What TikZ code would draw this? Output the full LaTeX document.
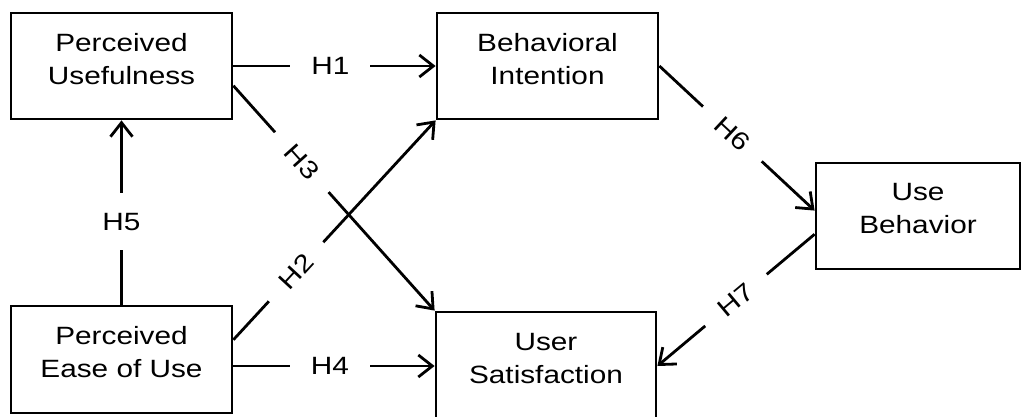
\documentclass[tikz,border=0pt]{standalone}
\usepackage{fontspec}
\setmainfont[FakeStretch=1.19]{Liberation Sans}
\usetikzlibrary{arrows.meta}

\tikzset{
construct/.style={draw,line width=2.8pt,minimum width=221pt,minimum height=106pt,inner sep=0pt,align=center,text depth=15pt,font=\fontsize{25}{33}\selectfont},
link/.style={line width=2.8pt,-{Straight Barb[length=14pt,width=22pt]}},
hyp/.style={fill=white,inner xsep=21pt,inner ysep=20pt,font=\fontsize{25}{30}\selectfont}
}

\begin{document}
\begin{tikzpicture}[x=1pt,y=-1pt]
\useasboundingbox (0,0) rectangle (1027,417);
\node[construct] (pu) at (121.5,66) {Perceived\\Usefulness};
\node[construct] (bi) at (547.5,66) {Behavioral\\Intention};
\node[construct,minimum width=204pt] (ub) at (918,216) {Use\\Behavior};
\node[construct,minimum height=107pt] (peou) at (121.5,359.5) {Perceived\\Ease of Use};
\node[construct,minimum width=220pt,minimum height=108pt] (us) at (546,366) {User\\Satisfaction};
\draw[link] (pu) -- node[hyp,pos=0.48] {H1} (bi);
\draw[link] (peou.10) -- node[hyp,sloped,pos=0.31] {H2} (bi.south west);
\draw[link] (pu.-10) -- node[hyp,sloped,pos=0.34] {H3} (us.north west);
\draw[link] (peou.east |- us.west) -- node[hyp,pos=0.48] {H4} (us.west);
\draw[link] (peou) -- node[hyp,pos=0.45] {H5} (pu);
\draw[link] (bi.east) -- node[hyp,sloped,pos=0.47] {H6} (ub.177);
\draw[link] (ub.190) -- node[hyp,sloped,pos=0.5] {H7} (us.east);
\end{tikzpicture}
\end{document}
